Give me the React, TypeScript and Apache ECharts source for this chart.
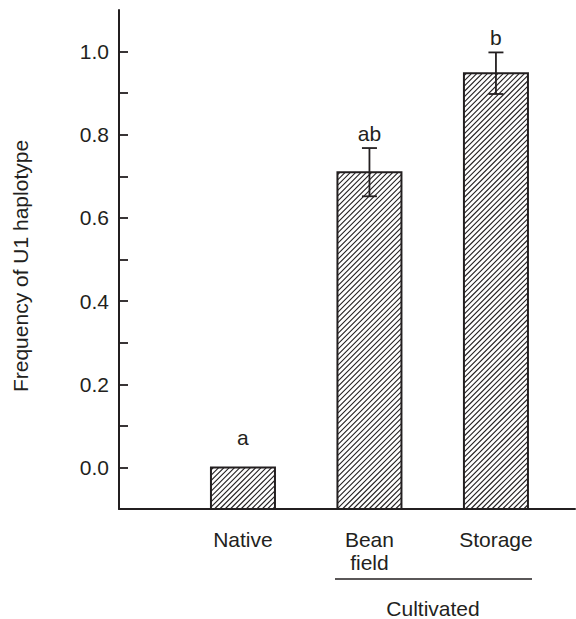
import React, { useEffect, useRef } from "react";
import * as echarts from "echarts";

const categories = ["Native", "Bean\nfield", "Storage"];
const categoryPositions = [1, 2, 3];
const frequencies = [0.0, 0.71, 0.948];
const errors = [0.0, 0.058, 0.05];
const letters = ["a", "ab", "b"];
const yTickValues = [0, 0.1, 0.2, 0.3, 0.4, 0.5, 0.6, 0.7, 0.8, 0.9, 1.0];
const yLabelValues = [0, 0.2, 0.4, 0.6, 0.8, 1.0];
const groupLabel = "Cultivated";
const yTitle = "Frequency of U1 haplotype";

const INK = "#231f20";
const FONT = "'Liberation Sans', Arial, Helvetica, sans-serif";
const FS = 21;
const Y_MIN = -0.1;
const Y_MAX = 1.1;
const BAR_HALF = 0.253;
const HATCH = 5.3;
const CAP = 7.5;

export default function App() {
  const ref = useRef<HTMLDivElement>(null);
  useEffect(() => {
    if (!ref.current) return;
    const chart = echarts.init(ref.current, null, { renderer: "svg" });
    const data = categoryPositions.map((x, i) => [x, frequencies[i], errors[i], i]);

    const renderItem = (params: any, api: any) => {
      const x = api.value(0);
      const v = api.value(1);
      const e = api.value(2);
      const idx = api.value(3);
      const bl = api.coord([x - BAR_HALF, Y_MIN]);
      const tr = api.coord([x + BAR_HALF, v]);
      const x0 = bl[0], y1 = bl[1], x1 = tr[0], y0 = tr[1];
      const children: any[] = [];
      children.push({
        type: "rect",
        shape: { x: x0, y: y0, width: x1 - x0, height: y1 - y0 },
        style: { fill: "#fff", stroke: "none" },
      });
      for (let c = x0 + y0 + HATCH / 2; c < x1 + y1; c += HATCH) {
        const xa = Math.max(x0, c - y1);
        const xb = Math.min(x1, c - y0);
        if (xb > xa) {
          children.push({
            type: "line",
            shape: { x1: xa, y1: c - xa, x2: xb, y2: c - xb },
            style: { stroke: INK, lineWidth: 1.1 },
          });
        }
      }
      children.push({
        type: "rect",
        shape: { x: x0, y: y0, width: x1 - x0, height: y1 - y0 },
        style: { fill: "none", stroke: INK, lineWidth: 2 },
      });
      const cx = api.coord([x, v])[0];
      let topY = y0;
      if (e > 0) {
        const hi = api.coord([x, v + e])[1];
        const lo = api.coord([x, v - e])[1];
        topY = hi;
        children.push({ type: "line", shape: { x1: cx, y1: hi, x2: cx, y2: lo }, style: { stroke: INK, lineWidth: 1.8 } });
        children.push({ type: "line", shape: { x1: cx - CAP, y1: hi, x2: cx + CAP, y2: hi }, style: { stroke: INK, lineWidth: 1.8 } });
        children.push({ type: "line", shape: { x1: cx - CAP, y1: lo, x2: cx + CAP, y2: lo }, style: { stroke: INK, lineWidth: 1.8 } });
      }
      const gap = e > 0 ? 15 : 30;
      children.push({
        type: "text",
        x: cx,
        y: topY - gap,
        style: {
          text: letters[idx],
          fill: INK,
          fontSize: FS,
          fontFamily: FONT,
          align: "center",
          verticalAlign: "middle",
        },
      });
      return { type: "group", children };
    };

    chart.setOption({
      animation: false,
      backgroundColor: "#fff",
      grid: { left: 119, right: 1, top: 10, bottom: 110, containLabel: false },
      xAxis: {
        type: "value",
        min: 0.02,
        max: 3.625,
        splitLine: { show: false },
        axisLine: { show: true, onZero: false, lineStyle: { color: INK, width: 2 } },
        axisTick: { show: false },
        axisLabel: {
          customValues: categoryPositions,
          formatter: (val: number) => {
            const i = categoryPositions.indexOf(Math.round(val));
            return i >= 0 ? categories[i] : "";
          },
          color: INK,
          fontSize: FS,
          fontFamily: FONT,
          lineHeight: 23,
          margin: 19,
        },
      },
      yAxis: {
        type: "value",
        min: Y_MIN,
        max: Y_MAX,
        interval: 0.1,
        splitLine: { show: false },
        axisLine: { show: true, onZero: false, lineStyle: { color: INK, width: 2 } },
        axisTick: {
          show: true,
          inside: true,
          length: 9,
          customValues: yTickValues,
          lineStyle: { color: INK, width: 1.8 },
        },
        axisLabel: {
          customValues: yLabelValues,
          formatter: (val: number) => val.toFixed(1),
          color: INK,
          fontSize: FS,
          fontFamily: FONT,
          margin: 10,
        },
      },
      graphic: [
        {
          type: "text",
          x: 20,
          y: 266,
          rotation: Math.PI / 2,
          style: {
            text: yTitle,
            fill: INK,
            fontSize: FS,
            fontFamily: FONT,
            align: "center",
            verticalAlign: "middle",
          },
        },
        {
          type: "line",
          shape: { x1: 335, y1: 579, x2: 532, y2: 579 },
          style: { stroke: INK, lineWidth: 1.5 },
        },
        {
          type: "text",
          x: 433,
          y: 608,
          style: {
            text: groupLabel,
            fill: INK,
            fontSize: FS,
            fontFamily: FONT,
            align: "center",
            verticalAlign: "middle",
          },
        },
      ],
      series: [
        {
          type: "custom",
          clip: false,
          renderItem,
          data,
        },
      ],
    });
    return () => chart.dispose();
  }, []);
  return (
    <div
      ref={ref}
      style={{ position: "absolute", left: 0, top: 0, width: 576, height: 619 }}
    />
  );
}
